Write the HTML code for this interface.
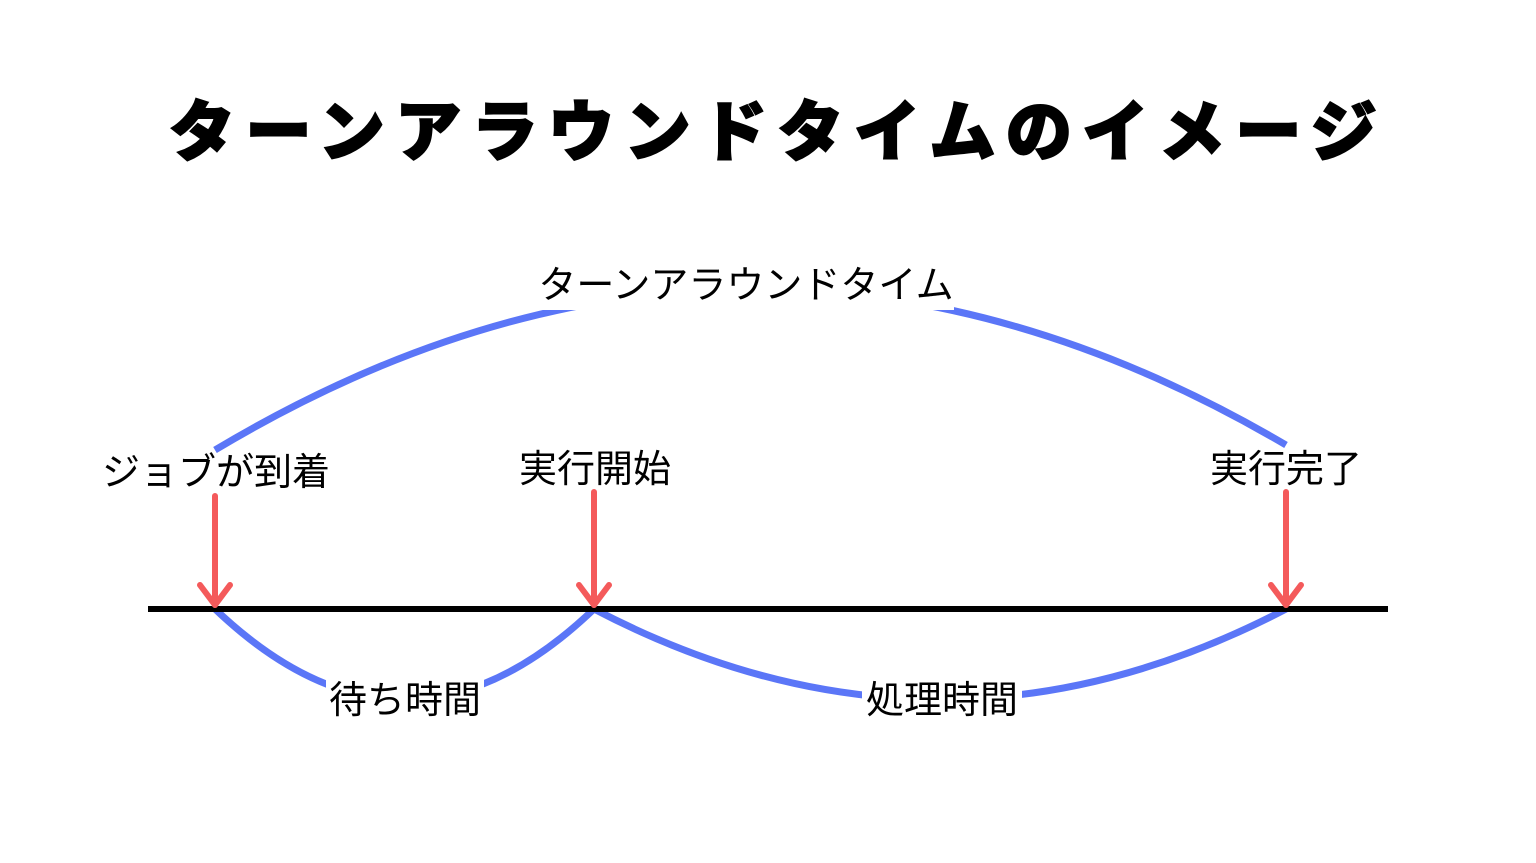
<!DOCTYPE html>
<html><head><meta charset="utf-8"><style>
html,body{margin:0;padding:0;background:#fff;}
svg{display:block;}
text{font-family:"Liberation Sans","Noto Sans CJK JP",sans-serif;fill:#000;}
</style></head><body>
<svg width="1536" height="863" viewBox="0 0 1536 863" xmlns="http://www.w3.org/2000/svg">
<rect width="1536" height="863" fill="#fff"/>
<text x="778" y="155" text-anchor="middle" font-size="66" font-weight="900" letter-spacing="10.5" style="font-weight:900" stroke="#000" stroke-width="2">ターンアラウンドタイムのイメージ</text>
<g fill="none" stroke="#5b76f7" stroke-width="7">
<path d="M215,450 Q750,130 1286,445"/>
<path d="M215,609 Q405,790 594,609"/>
<path d="M594,609 Q940,790 1286,609"/>
</g>
<rect x="538" y="255" width="416" height="55" fill="#fff"/>
<rect x="326" y="670" width="158" height="50" fill="#fff"/>
<rect x="862" y="670" width="160" height="50" fill="#fff"/>
<line x1="148" y1="609" x2="1388" y2="609" stroke="#000" stroke-width="6"/>
<g stroke="#f45a5b" stroke-width="6" fill="none" stroke-linecap="round" stroke-linejoin="round">
<line x1="215" y1="496" x2="215" y2="605"/>
<polyline points="200,585 215,605 230,585"/>
<line x1="594" y1="492" x2="594" y2="605"/>
<polyline points="579,585 594,605 609,585"/>
<line x1="1286" y1="492" x2="1286" y2="605"/>
<polyline points="1271,585 1286,605 1301,585"/>
</g>
<g font-size="38">
<text x="746" y="298" text-anchor="middle">ターンアラウンドタイム</text>
<text x="216" y="485" text-anchor="middle">ジョブが到着</text>
<text x="595" y="482" text-anchor="middle">実行開始</text>
<text x="1286" y="482" text-anchor="middle">実行完了</text>
<text x="405" y="713" text-anchor="middle">待ち時間</text>
<text x="942" y="713" text-anchor="middle">処理時間</text>
</g>
</svg>
</body></html>
